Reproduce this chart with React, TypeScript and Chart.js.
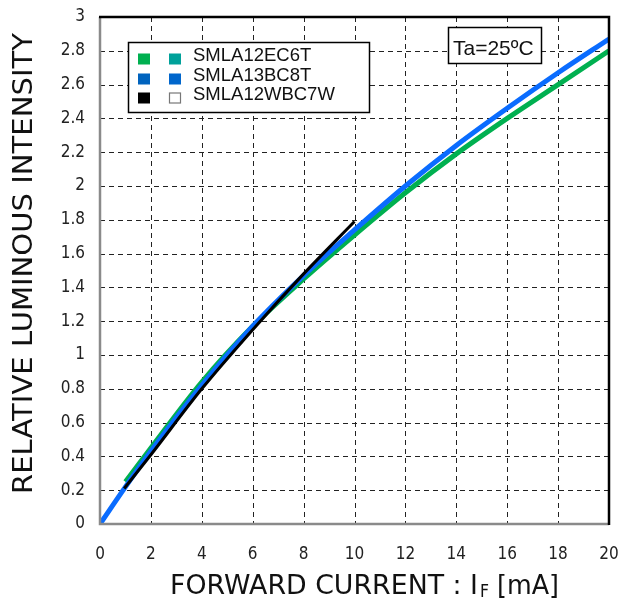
import React, { useEffect, useRef } from "react";
import { Chart, registerables } from "chart.js";

Chart.register(...registerables);

// ---- data ----
const seriesNames = ["SMLA12EC6T", "SMLA13BC8T", "SMLA12WBC7W"];

const currentGreen = [1, 2, 4, 6, 8, 10, 12, 14, 16, 18, 20];
const intensityGreen = [0.25, 0.45, 0.84, 1.17, 1.45, 1.71, 1.96, 2.19, 2.4, 2.6, 2.8];

const currentBlue = [0, 1, 2, 4, 6, 8, 10, 12, 14, 16, 18, 20];
const intensityBlue = [0, 0.22, 0.43, 0.82, 1.17, 1.47, 1.74, 2.0, 2.24, 2.46, 2.67, 2.87];

const currentBlack = [0.95, 2, 4, 6, 8, 10];
const intensityBlack = [0.21, 0.41, 0.8, 1.15, 1.48, 1.79];

const xTickStep = 2;
const yTickStep = 0.2;
const xRange = [0, 20];
const yRange = [0, 3];

const ambientLabel = "Ta=25ºC";
const xTitleMain = "FORWARD CURRENT : I";
const xTitleSub = "F";
const xTitleUnit = " [mA]";
const yTitle = "RELATIVE LUMINOUS INTENSITY";

const toPoints = (xs: number[], ys: number[]) => xs.map((x, i) => ({ x, y: ys[i] }));

const FONT = "'DejaVu Sans Condensed', 'DejaVu Sans', sans-serif";
const TITLE_FONT = "'DejaVu Sans', sans-serif";
const ARIAL = "'Liberation Sans', Arial, sans-serif";

function fitText(ctx: CanvasRenderingContext2D, text: string, x: number, y: number, width: number) {
  const w = ctx.measureText(text).width;
  ctx.save();
  ctx.translate(x, y);
  ctx.scale(width / w, 1);
  ctx.fillText(text, 0, 0);
  ctx.restore();
}

const decorPlugin = {
  id: "decor",
  beforeDatasetsDraw(chart: any) {
    const { ctx, chartArea, scales } = chart;
    const { left, right, top, bottom } = chartArea;
    ctx.save();
    ctx.strokeStyle = "#222";
    ctx.lineWidth = 1;
    ctx.setLineDash([5, 4]);
    scales.x.ticks.forEach((t: any) => {
      const px = Math.round(scales.x.getPixelForValue(t.value)) + 0.5;
      if (px <= left + 2 || px >= right - 2) return;
      ctx.beginPath();
      ctx.moveTo(px, top);
      ctx.lineTo(px, bottom);
      ctx.stroke();
    });
    scales.y.ticks.forEach((t: any) => {
      const py = Math.round(scales.y.getPixelForValue(t.value)) + 0.5;
      if (py <= top + 2 || py >= bottom - 2) return;
      ctx.beginPath();
      ctx.moveTo(left, py);
      ctx.lineTo(right, py);
      ctx.stroke();
    });
    ctx.restore();
  },
  afterDraw(chart: any) {
    const { ctx, chartArea } = chart;
    const { left, right, top, bottom } = chartArea;
    ctx.save();
    ctx.setLineDash([]);
    // frame
    ctx.lineWidth = 2.5;
    ctx.strokeStyle = "#8a8a8a";
    ctx.beginPath();
    ctx.moveTo(left, top);
    ctx.lineTo(left, bottom);
    ctx.lineTo(right, bottom);
    ctx.stroke();
    ctx.strokeStyle = "#000";
    ctx.beginPath();
    ctx.moveTo(left - 1, top);
    ctx.lineTo(right, top);
    ctx.lineTo(right, bottom + 1);
    ctx.stroke();

    // legend box
    ctx.fillStyle = "#fff";
    ctx.fillRect(128, 42, 241, 70);
    ctx.lineWidth = 1.5;
    ctx.strokeStyle = "#000";
    ctx.strokeRect(128.5, 42.5, 241, 70);
    const markers = [
      ["#00b050", "#00a19a"],
      ["#0063be", "#0066cc"],
      ["#000000", "#ffffff"],
    ];
    const rowY = [59, 79, 98];
    ctx.font = `18.5px ${ARIAL}`;
    ctx.textBaseline = "middle";
    ctx.textAlign = "left";
    seriesNames.forEach((name, i) => {
      const cy = rowY[i];
      ctx.fillStyle = markers[i][0];
      ctx.fillRect(138, cy - 5.5, 12, 11);
      ctx.fillStyle = markers[i][1];
      ctx.fillRect(169, cy - 5.5, 12, 11);
      if (i === 2) {
        ctx.lineWidth = 1.2;
        ctx.strokeStyle = "#777";
        ctx.strokeRect(169.5, cy - 5, 11, 10);
      }
      ctx.fillStyle = "#111";
      ctx.fillText(name, 193, cy - 3);
    });

    // Ta box
    ctx.fillStyle = "#fff";
    ctx.fillRect(448, 27, 94, 36);
    ctx.lineWidth = 1.5;
    ctx.strokeStyle = "#000";
    ctx.strokeRect(448.5, 27.5, 93, 36);
    ctx.fillStyle = "#111";
    ctx.font = `21px ${ARIAL}`;
    ctx.textBaseline = "alphabetic";
    ctx.fillText(ambientLabel, 453, 55, 84);

    // x title
    ctx.fillStyle = "#111";
    ctx.textAlign = "left";
    ctx.font = `26px ${TITLE_FONT}`;
    fitText(ctx, xTitleMain, 170, 594, 308);
    ctx.font = `17px ${TITLE_FONT}`;
    fitText(ctx, xTitleSub, 480, 597, 9);
    ctx.font = `26px ${TITLE_FONT}`;
    fitText(ctx, xTitleUnit, 489, 594, 70);

    // y title
    ctx.save();
    ctx.translate(32, 494);
    ctx.rotate(-Math.PI / 2);
    ctx.font = `27px ${TITLE_FONT}`;
    fitText(ctx, yTitle, 0, 0, 461);
    ctx.restore();

    ctx.restore();
  },
};

export default function App() {
  const ref = useRef<HTMLCanvasElement | null>(null);
  useEffect(() => {
    document.body.style.margin = "0";
    if (!ref.current) return;
    const chart = new Chart(ref.current, {
      type: "line",
      data: {
        datasets: [
          {
            label: seriesNames[0],
            data: toPoints(currentGreen, intensityGreen),
            borderColor: "#00b050",
            borderWidth: 5,
            pointRadius: 0,
            cubicInterpolationMode: "monotone",
            order: 2,
          },
          {
            label: seriesNames[1],
            data: toPoints(currentBlue, intensityBlue),
            borderColor: "#0a6cff",
            borderWidth: 5,
            pointRadius: 0,
            cubicInterpolationMode: "monotone",
            order: 1,
          },
          {
            label: seriesNames[2],
            data: toPoints(currentBlack, intensityBlack),
            borderColor: "#000000",
            borderWidth: 3,
            pointRadius: 0,
            cubicInterpolationMode: "monotone",
            order: 0,
          },
        ],
      },
      options: {
        animation: false,
        responsive: false,
        layout: { padding: { top: 17, right: 11, left: 0, bottom: 0 } },
        plugins: { legend: { display: false }, tooltip: { enabled: false } },
        scales: {
          x: {
            type: "linear",
            min: xRange[0],
            max: xRange[1],
            grid: { display: false, drawTicks: false },
            border: { display: false },
            ticks: {
              stepSize: xTickStep,
              padding: 20,
              color: "#222",
              font: { family: FONT, size: 17 },
              maxRotation: 0,
            },
            afterFit: (s: any) => {
              s.height = 87;
              s.paddingLeft = 0;
              s.paddingRight = 0;
            },
          },
          y: {
            type: "linear",
            min: yRange[0],
            max: yRange[1],
            grid: { display: false, drawTicks: false },
            border: { display: false },
            ticks: {
              stepSize: yTickStep,
              padding: 15,
              color: "#222",
              font: { family: FONT, size: 17 },
              callback: (v: any) => String(Number(Number(v).toFixed(1))),
            },
            afterFit: (s: any) => {
              s.width = 100;
              s.paddingTop = 0;
              s.paddingBottom = 0;
            },
          },
        },
      },
      plugins: [decorPlugin],
    } as any);
    return () => chart.destroy();
  }, []);
  return <canvas ref={ref} width={620} height={611} style={{ display: "block" }} />;
}
